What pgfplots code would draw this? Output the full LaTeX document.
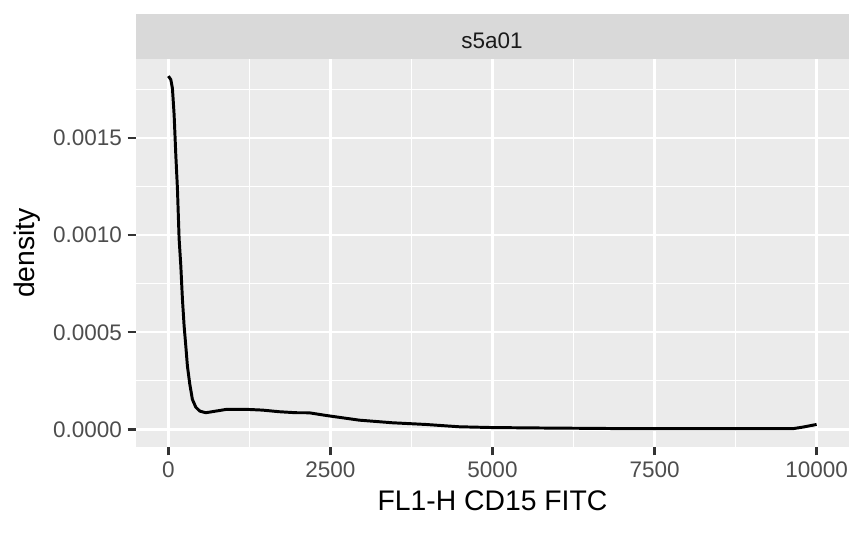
\documentclass[border=0pt]{standalone}
\usepackage{pgfplots}
\pgfplotsset{compat=1.18}
\usepackage{fontspec}
\setmainfont{Liberation Sans}
\definecolor{panelgray}{HTML}{EBEBEB}
\definecolor{stripgray}{HTML}{D9D9D9}
\definecolor{ticklab}{HTML}{4D4D4D}
\definecolor{tickcol}{HTML}{333333}
\definecolor{striptext}{HTML}{1A1A1A}
\begin{document}
\begin{tikzpicture}
\path[use as bounding box] (0,0) rectangle (414.72pt,256.32pt);
\fill[stripgray] (65.28pt,228pt) rectangle (407.52pt,249.6pt);
\node[text=striptext,font=\fontsize{10.8}{12}\selectfont, anchor=base, inner sep=0pt] at (236.2pt,233.1pt) {s5a01};
\begin{axis}[at={(65.28pt,41.76pt)}, anchor=south west, scale only axis,
  width=342.24pt, height=186.24pt,
  xmin=-500, xmax=10500, ymin=-0.00009, ymax=0.001906,
  axis background/.style={fill=panelgray},
  axis line style={draw=none},
  xtick={0,2500,5000,7500,10000}, xticklabels={0,2500,5000,7500,10000},
  ytick={0,0.0005,0.001,0.0015}, yticklabels={0.0000,0.0005,0.0010,0.0015},
  minor xtick={1250,3750,6250,8750}, minor ytick={0.00025,0.00075,0.00125,0.00175},
  grid=both,
  major grid style={white, line width=1.07pt},
  minor grid style={white, line width=0.53pt},
  tick align=outside, tick pos=left, major tick length=4pt, minor tick length=0pt,
  every tick/.style={tickcol, line width=1.07pt},
  scaled ticks=false,
  tick label style={ticklab, font=\fontsize{10.8}{12}\selectfont},
  xticklabel style={inner sep=0pt, anchor=north, yshift=-2.7pt},
  yticklabel style={inner sep=0pt, anchor=east, xshift=-2.6pt},
]
\addplot[black, line width=1.42pt, no marks] coordinates {
(0,0.001818) (37,0.001800) (62,0.001755) (88,0.001620) (114,0.001413)
(139,0.001241) (165,0.000982) (191,0.000844) (216,0.000672) (242,0.000534)
(268,0.000431) (293,0.000327) (330,0.000233) (370,0.000155) (422,0.000115)
(484,0.0000946) (577,0.0000863) (731,0.0000946) (886,0.000103) (1245,0.000103)
(1451,0.0000998) (1708,0.0000915) (1966,0.0000863) (2171,0.0000860) (2429,0.0000724)
(2943,0.0000481) (3457,0.0000346) (3972,0.0000259) (4486,0.0000140) (5000,0.0000100)
(5500,0.0000085) (6000,0.0000070) (6500,0.0000060) (7000,0.0000045) (7500,0.0000040)
(8500,0.0000040) (9400,0.0000040) (9650,0.0000050) (9800,0.0000130) (10000,0.0000260)
};
\end{axis}
\node[font=\fontsize{13.6}{15}\selectfont, anchor=base, inner sep=0pt] at (236.4pt,11.5pt) {FL1-H CD15 FITC};
\node[font=\fontsize{13.6}{15}\selectfont, rotate=90] at (13pt,134.9pt) {density};
\end{tikzpicture}
\end{document}
